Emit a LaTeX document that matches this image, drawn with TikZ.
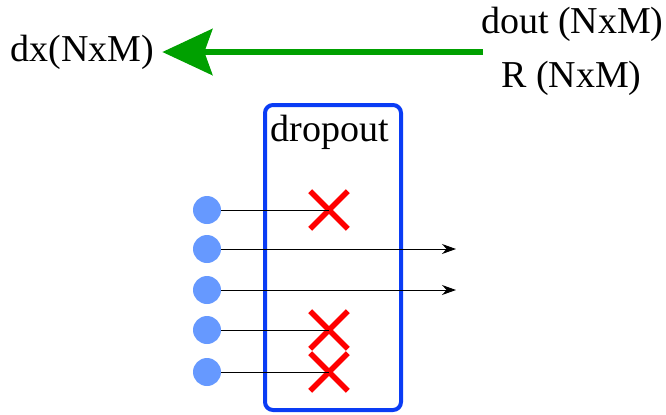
\documentclass[tikz,border=0pt]{standalone}
\usepackage{fontspec}
\setmainfont{Liberation Serif}
\usepackage{tikz}
\usetikzlibrary{arrows.meta,shapes.misc}
\definecolor{boxblue}{HTML}{0A3CF5}
\definecolor{unit}{HTML}{6699FF}
\definecolor{back}{HTML}{00A000}
\definecolor{drop}{HTML}{FF0000}
\tikzset{
  lbl/.style={font=\fontsize{19}{23}\selectfont, inner sep=0pt},
  unitdot/.style={circle, fill=unit, minimum size=14pt, inner sep=0pt},
  killed/.style={cross out, draw=drop, line width=2.8pt, minimum size=16pt, inner sep=0pt},
  wire/.style={line width=0.5pt, draw=black},
  pass/.style={wire, -{Stealth[length=7pt,width=5pt]}},
  grad/.style={draw=back, line width=3pt, -{Stealth[length=25pt,width=23pt,inset=4pt]}},
  layer/.style={draw=boxblue, line width=2pt, rounded corners=4pt}
}

\begin{document}
\begin{tikzpicture}[x=0.5pt, y=-0.5pt]
  \useasboundingbox (0,0) rectangle (666,414);
  % backward pass
  \node[lbl, anchor=east] (dout) at (664,24) {dout (NxM)};
  \node[lbl, anchor=east] (mask) at (642,78) {R (NxM)};
  \node[lbl, anchor=west] (dx) at (10,52) {dx(NxM)};
  \coordinate (gstart) at (483,52);
  \draw[grad, shorten >=4pt] (gstart) -- (dx.east);
  % dropout layer
  \draw[layer] (265,105) rectangle (401,410);
  \node[lbl] (name) at (330,132) {dropout};
  \node[killed] (x1) at (329,210) {};
  \node[killed] (x4) at (329,330) {};
  \node[killed] (x5) at (329,372) {};
  \coordinate (out2) at (456,249);
  \coordinate (out3) at (456,290);
  \foreach \i/\y in {1/210,2/249,3/290,4/330,5/372}
    \node[unitdot] (in\i) at (207,\y) {};
  \draw[wire] (in1) -- (x1.center);
  \draw[pass] (in2) -- (out2);
  \draw[pass] (in3) -- (out3);
  \draw[wire] (in4) -- (x4.center);
  \draw[wire] (in5) -- (x5.center);
\end{tikzpicture}
\end{document}
